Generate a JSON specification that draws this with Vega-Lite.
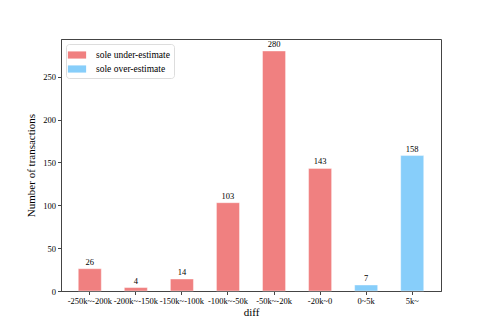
{
  "$schema": "https://vega.github.io/schema/vega-lite/v6.json",
  "width": 380,
  "height": 252,
  "autosize": {"type": "none"},
  "padding": {"left": 61, "top": 39, "right": 49, "bottom": 36},
  "background": "white",
  "config": {
    "font": "Liberation Serif",
    "view": {"stroke": "#444444", "strokeWidth": 1},
    "axis": {"labelFont": "Liberation Serif", "titleFont": "Liberation Serif", "labelFontSize": 8.5, "titleFontSize": 11, "titleFontWeight": "normal", "labelColor": "#000", "titleColor": "#000", "domainColor": "#444444", "tickColor": "#444444", "tickSize": 3.5, "grid": false},
    "legend": {"labelFont": "Liberation Serif", "labelFontSize": 9.5, "labelColor": "#000"}
  },
  "data": {
    "values": [
      {"range": "-250k~-200k", "count": 26, "type": "sole under-estimate"},
      {"range": "-200k~-150k", "count": 4, "type": "sole under-estimate"},
      {"range": "-150k~-100k", "count": 14, "type": "sole under-estimate"},
      {"range": "-100k~-50k", "count": 103, "type": "sole under-estimate"},
      {"range": "-50k~-20k", "count": 280, "type": "sole under-estimate"},
      {"range": "-20k~0", "count": 143, "type": "sole under-estimate"},
      {"range": "0~5k", "count": 7, "type": "sole over-estimate"},
      {"range": "5k~", "count": 158, "type": "sole over-estimate"}
    ]
  },
  "encoding": {
    "x": {"field": "range", "type": "nominal", "sort": null, "title": "diff",
      "scale": {"paddingInner": 0.5, "paddingOuter": 0.375},
      "axis": {"labelAngle": 0, "titlePadding": 1, "labelPadding": 2}},
    "y": {"field": "count", "type": "quantitative", "title": "Number of transactions",
      "scale": {"domain": [0, 294], "nice": false},
      "axis": {"values": [0, 50, 100, 150, 200, 250], "titlePadding": 6, "labelPadding": 2}}
  },
  "layer": [
    {
      "mark": {"type": "bar", "stroke": "white", "strokeOpacity": 0.4, "strokeWidth": 1},
      "encoding": {
        "color": {"field": "type", "type": "nominal",
          "scale": {"domain": ["sole under-estimate", "sole over-estimate"], "range": ["#F08080", "#87CEFA"]},
          "legend": {"title": null, "orient": "none", "legendX": 5, "legendY": 5, "symbolType": "M-1.4,-0.55H1.4V0.55H-1.4Z", "symbolSize": 170, "labelFontSize": 9.5, "labelFont": "Liberation Serif", "labelColor": "#000", "strokeColor": "#dddddd", "fillColor": "white", "padding": 4, "rowPadding": 2, "labelOffset": 12, "cornerRadius": 3, "symbolStrokeWidth": 0,
            "labelLimit": 300}
        }
      }
    },
    {
      "mark": {"type": "text", "baseline": "bottom", "dy": -2, "fontSize": 8.5, "font": "Liberation Serif", "color": "#000"},
      "encoding": {"text": {"field": "count", "type": "quantitative"}}
    }
  ]
}
